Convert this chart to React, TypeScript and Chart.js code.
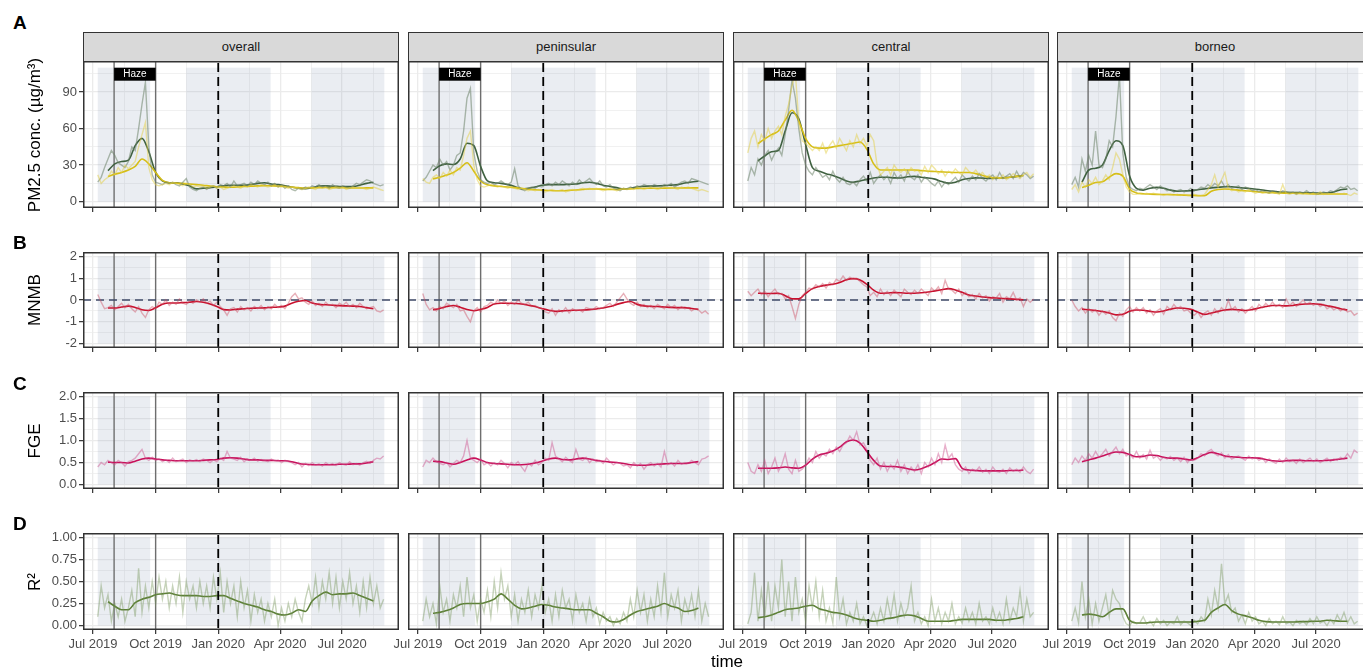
import React, { useEffect, useRef } from "react";
import { Chart, registerables } from "chart.js";

Chart.register(...registerables);

const FONT = "'Liberation Sans', Arial, Helvetica, sans-serif";

// ---------------- categories / axes ----------------
const REGIONS = ["overall", "peninsular", "central", "borneo"];
// days since 1 Jul 2019
const NOISY_DAYS = [7, 12, 17, 22, 27, 32, 37, 42, 47, 52, 57, 62, 67, 72, 77, 82, 87, 92, 97, 102, 107, 112, 117, 122, 127, 132, 137, 142, 147, 152, 157, 162, 167, 172, 177, 182, 187, 192, 197, 202, 207, 212, 217, 222, 227, 232, 237, 242, 247, 252, 257, 262, 267, 272, 277, 282, 287, 292, 297, 302, 307, 312, 317, 322, 327, 332, 337, 342, 347, 352, 357, 362, 367, 372, 377, 382, 387, 392, 397, 402, 407, 412, 417, 422, 427];
const SMOOTH_DAYS = [22, 32, 42, 52, 62, 72, 82, 92, 102, 112, 122, 132, 142, 152, 162, 172, 182, 192, 202, 212, 222, 232, 242, 252, 262, 272, 282, 292, 302, 312, 322, 332, 342, 352, 362, 372, 382, 392, 402, 412];
const X_MAJOR = [0, 92, 184, 275, 366];
const X_LABELS = ["Jul 2019", "Oct 2019", "Jan 2020", "Apr 2020", "Jul 2020"];
const X_MINOR = [46, 138, 229.5, 320.5, 411.5];
const X_MIN = -14.7;
const X_MAX = 449.6;
const HAZE_DAYS = [31, 92];
const EVENT_DAY = 184;
const SEASON_BANDS = [[7, 84], [137, 261], [321, 428]];

// ---------------- PM2.5 (green = series 1, yellow = series 2) ----------------
const PM_OBS_RAW_OVERALL = [16, 20, 28, 35, 42, 38, 32, 30, 28, 33, 45, 42, 60, 80, 98, 45, 22, 16, 15, 14, 16, 15, 16, 14, 13, 16, 19, 12, 10, 9, 11, 12, 10, 12, 13, 11, 14, 13, 15, 12, 17, 13, 14, 15, 13, 16, 14, 17, 15, 14, 16, 13, 15, 12, 14, 11, 13, 10, 9, 11, 10, 12, 11, 13, 12, 14, 12, 13, 11, 14, 12, 11, 13, 12, 11, 13, 15, 14, 16, 18, 17, 15, 14, 13, 14];
const PM_MOD_RAW_OVERALL = [22, 15, 18, 20, 25, 22, 28, 24, 30, 27, 30, 33, 45, 55, 65, 28, 18, 14, 13, 14, 15, 14, 16, 15, 14, 13, 15, 14, 12, 13, 12, 13, 11, 12, 13, 11, 12, 10, 11, 12, 13, 12, 11, 13, 12, 14, 13, 12, 14, 13, 12, 13, 14, 12, 13, 12, 11, 12, 11, 11, 10, 11, 12, 11, 10, 12, 11, 12, 10, 11, 12, 11, 12, 10, 11, 12, 11, 12, 11, 10, 11, 12, 11, 10, 9];
const PM_OBS_RAW_PENINSULAR = [17, 20, 25, 30, 28, 35, 30, 33, 26, 30, 38, 40, 58, 85, 93, 40, 25, 18, 16, 15, 16, 14, 15, 17, 15, 14, 16, 27, 13, 10, 9, 11, 12, 11, 13, 12, 14, 15, 13, 16, 14, 17, 15, 13, 16, 14, 18, 15, 17, 19, 16, 14, 17, 13, 12, 14, 11, 10, 9, 11, 10, 12, 11, 13, 12, 14, 13, 12, 14, 13, 12, 14, 13, 15, 12, 14, 16, 17, 15, 19, 18, 17, 16, 15, 14];
const PM_MOD_RAW_PENINSULAR = [19, 16, 15, 20, 22, 19, 24, 21, 26, 22, 28, 26, 38, 52, 58, 30, 18, 13, 12, 13, 14, 13, 12, 13, 12, 11, 12, 11, 10, 11, 10, 9, 10, 9, 10, 9, 8, 9, 10, 9, 9, 10, 8, 9, 10, 9, 10, 11, 10, 11, 10, 11, 10, 9, 10, 11, 10, 9, 10, 11, 10, 11, 10, 12, 11, 10, 11, 12, 11, 10, 11, 12, 11, 12, 11, 10, 12, 11, 12, 11, 10, 9, 10, 9, 8];
const PM_OBS_RAW_CENTRAL = [17, 28, 22, 35, 30, 38, 42, 34, 40, 44, 38, 55, 75, 100, 85, 60, 40, 30, 25, 22, 28, 24, 20, 22, 18, 25, 19, 16, 20, 15, 14, 16, 13, 18, 21, 17, 24, 15, 19, 22, 18, 21, 15, 24, 19, 22, 17, 25, 20, 18, 22, 16, 20, 18, 15, 13, 17, 12, 16, 14, 17, 20, 16, 22, 19, 17, 21, 18, 23, 19, 17, 20, 22, 18, 24, 19, 21, 23, 19, 25, 20, 24, 22, 19, 21];
const PM_MOD_RAW_CENTRAL = [40, 52, 58, 45, 55, 50, 60, 52, 58, 62, 55, 70, 80, 95, 105, 65, 50, 48, 45, 42, 45, 42, 48, 40, 46, 50, 44, 52, 47, 42, 50, 45, 55, 48, 52, 46, 55, 50, 30, 22, 25, 28, 22, 30, 26, 24, 27, 23, 28, 25, 26, 22, 29, 24, 30, 27, 23, 26, 21, 25, 23, 27, 24, 22, 28, 25, 23, 26, 22, 24, 20, 22, 18, 21, 19, 22, 18, 20, 23, 21, 19, 22, 24, 20, 23];
const PM_OBS_RAW_BORNEO = [14, 20, 12, 35, 25, 38, 30, 58, 30, 28, 35, 50, 45, 70, 104, 40, 20, 12, 10, 9, 11, 10, 12, 14, 12, 10, 13, 11, 9, 10, 8, 9, 10, 8, 9, 11, 9, 10, 12, 11, 14, 12, 15, 13, 17, 12, 14, 11, 12, 13, 10, 12, 11, 9, 10, 8, 9, 8, 7, 9, 8, 7, 9, 8, 7, 8, 6, 8, 7, 9, 7, 8, 6, 7, 8, 7, 9, 8, 10, 12, 11, 13, 10, 11, 9];
const PM_MOD_RAW_BORNEO = [10, 14, 8, 16, 12, 18, 15, 20, 14, 17, 22, 18, 28, 40, 35, 22, 12, 8, 6, 6, 7, 6, 7, 6, 7, 6, 6, 5, 6, 6, 5, 6, 5, 6, 5, 5, 6, 5, 5, 6, 10, 14, 22, 12, 18, 24, 11, 9, 10, 8, 9, 8, 10, 8, 7, 8, 7, 8, 7, 8, 7, 6, 14, 7, 6, 7, 6, 7, 6, 7, 6, 7, 6, 8, 6, 7, 6, 6, 7, 6, 7, 6, 5, 7, 6];

const PM_OBS_SMOOTH_OVERALL = [25.5, 31, 33, 34, 46, 52, 41, 24, 17, 15.4, 15.4, 14.5, 13, 10.5, 11, 11.5, 12.3, 13, 13.5, 13.5, 13.5, 14, 15, 15.5, 14.5, 14, 13, 12, 11, 10.7, 11.5, 12.8, 13, 12.6, 12.5, 12.4, 12.5, 13.5, 15, 16];
const PM_MOD_SMOOTH_OVERALL = [20.6, 22.5, 24, 26, 29, 35, 31, 24, 17.5, 15.5, 15.2, 15, 14.5, 14, 13.5, 12.8, 12.3, 12, 11.8, 12, 12.4, 12.6, 13, 13.2, 13, 12.8, 12.5, 12, 11.5, 11.2, 11.3, 11.5, 11.6, 11.5, 11.5, 11.3, 11.2, 11.2, 11.3, 11.3];
const PM_OBS_SMOOTH_PENINSULAR = [25.5, 29.5, 31, 30.5, 35, 48, 46, 29, 17, 15.5, 15, 14, 12.5, 10.5, 11, 12, 13.5, 14, 14, 14, 14.3, 14.5, 15.5, 16, 15, 13.5, 12.5, 11.5, 10.5, 11, 12, 12.6, 12.8, 13, 13.2, 13.6, 14, 15.3, 16.2, 16.8];
const PM_MOD_SMOOTH_PENINSULAR = [18.7, 20, 21.8, 24, 27.5, 32, 25, 17, 13.8, 13, 12.5, 12, 11.5, 11, 10.2, 9.8, 9.5, 9.2, 9, 9, 9.3, 9.6, 10, 10.4, 10.4, 10.2, 10, 10, 10.2, 10.5, 10.8, 11, 11, 11, 11.1, 11.2, 11.2, 11.3, 11.3, 11.3];
const PM_OBS_SMOOTH_CENTRAL = [33.5, 37.5, 41, 42, 58, 73, 68, 47, 28, 25, 23, 21.5, 19.5, 17, 16, 17, 18.3, 19.5, 20, 20, 19.5, 19.4, 20.5, 20.8, 20, 19.5, 18.5, 16.5, 15.2, 16, 18, 19, 19.5, 19.3, 19.1, 19.2, 19.6, 20, 20.8, 21.5];
const PM_MOD_SMOOTH_CENTRAL = [47.7, 51.5, 55, 58, 67, 75, 66, 52, 45, 44, 44, 45, 46, 47, 48, 49, 43, 31, 26, 26, 26, 26, 26, 26, 25.5, 25, 24.8, 24.5, 24.2, 24, 24, 24, 23, 21.5, 20, 19.5, 19.4, 20, 20.8, 21.5];
const PM_OBS_SMOOTH_BORNEO = [16, 26, 27.5, 30, 42, 50, 46, 21, 11, 9.5, 11, 11.7, 11, 9.5, 8.6, 8.8, 9, 9.8, 10.5, 11.3, 11.8, 12.2, 12.2, 11.6, 11.1, 10.6, 10, 9.2, 8.5, 8, 7.7, 7.5, 7.4, 7.3, 7.2, 7.1, 7.3, 8, 9.8, 10.4];
const PM_MOD_SMOOTH_BORNEO = [11.7, 13.5, 15.8, 16.3, 20, 23, 21, 10.5, 7.2, 6.5, 6.2, 6, 5.9, 5.8, 5.6, 5.4, 5.2, 5, 4.9, 8.5, 10, 10.4, 10, 9.5, 9, 8.5, 8, 7.5, 7.3, 7.1, 7, 6.9, 6.8, 6.6, 6.4, 6.3, 6.3, 6.3, 6.3, 6.3];

// ---------------- MNMB ----------------
const MNMB_RAW_OVERALL = [0.25, -0.1, -0.4, -0.35, -0.25, -0.45, -0.3, -0.15, -0.35, -0.2, -0.4, -0.55, -0.3, -0.6, -0.8, -0.45, -0.3, -0.4, -0.1, -0.2, 0, -0.25, -0.1, -0.2, 0.05, -0.15, -0.2, -0.05, -0.15, 0, -0.1, 0.05, -0.15, -0.05, -0.25, -0.1, -0.3, -0.45, -0.7, -0.4, -0.35, -0.55, -0.3, -0.45, -0.35, -0.5, -0.3, -0.4, -0.25, -0.45, -0.3, -0.4, -0.2, -0.35, -0.25, -0.4, -0.15, 0.15, 0.3, 0.05, 0.1, -0.1, -0.2, -0.05, -0.25, -0.15, -0.3, -0.1, -0.25, -0.2, -0.35, -0.15, -0.25, -0.1, -0.3, -0.2, -0.35, -0.15, -0.3, -0.4, -0.35, -0.3, -0.5, -0.55, -0.45];
const MNMB_RAW_PENINSULAR = [0.3, -0.2, -0.45, -0.35, -0.5, -0.3, -0.4, -0.15, -0.25, -0.35, -0.2, -0.5, -0.45, -0.75, -1.0, -0.5, -0.35, -0.55, -0.3, -0.25, -0.1, -0.2, 0, -0.15, -0.05, -0.25, -0.1, -0.2, 0, -0.15, -0.2, -0.1, -0.3, -0.25, -0.35, -0.4, -0.55, -0.6, -0.4, -0.7, -0.45, -0.55, -0.35, -0.6, -0.4, -0.5, -0.45, -0.55, -0.35, -0.4, -0.45, -0.3, -0.4, -0.35, -0.25, -0.15, -0.3, -0.1, 0.1, 0.3, 0.05, -0.15, -0.25, -0.1, -0.3, -0.2, -0.35, -0.25, -0.4, -0.2, -0.3, -0.4, -0.2, -0.35, -0.25, -0.45, -0.3, -0.4, -0.35, -0.5, -0.4, -0.45, -0.6, -0.5, -0.65];
const MNMB_RAW_CENTRAL = [0.4, 0.2, 0.35, 0.5, 0.25, 0.4, 0.15, 0.35, 0.5, 0.25, 0.3, 0.05, 0.2, -0.3, -0.85, -0.2, 0.2, 0.35, 0.55, 0.5, 0.7, 0.6, 0.75, 0.55, 0.8, 0.7, 0.95, 0.85, 1.1, 0.9, 1.05, 0.95, 1.0, 0.85, 0.7, 0.6, 0.2, 0.35, 0.15, 0.5, 0.25, 0.4, 0.2, 0.45, 0.3, 0.15, 0.5, 0.35, 0.25, 0.45, 0.3, 0.5, 0.35, 0.2, 0.55, 0.4, 0.6, 0.3, 0.9, 0.5, 0.45, 0.3, 0.5, 0.2, 0.35, 0.15, 0.25, 0.05, 0.3, 0.1, 0.2, -0.05, 0.15, 0.1, 0.3, -0.1, 0.15, 0.05, 0.35, 0, 0.1, -0.3, 0.05, -0.1, 0.05];
const MNMB_RAW_BORNEO = [0, -0.3, -0.5, -0.35, -0.6, -0.4, -0.55, -0.45, -0.7, -0.5, -0.65, -0.5, -0.8, -0.95, -0.6, -0.75, -0.45, -0.3, -0.55, -0.35, -0.5, -0.35, -0.6, -0.45, -0.7, -0.5, -0.4, -0.65, -0.3, -0.45, -0.2, -0.4, -0.3, -0.5, -0.45, -0.6, -0.7, -0.55, -0.8, -0.6, -0.5, -0.7, -0.4, -0.6, -0.35, -0.5, 0, -0.45, -0.3, -0.55, -0.4, -0.6, -0.45, -0.3, -0.5, -0.2, -0.35, -0.15, -0.3, -0.1, -0.3, -0.2, -0.35, 0.05, -0.25, -0.1, -0.3, -0.15, 0, -0.2, -0.1, -0.25, -0.15, -0.3, -0.2, -0.4, -0.3, -0.45, -0.35, -0.5, -0.4, -0.55, -0.5, -0.7, -0.6];
const MNMB_SMOOTH_OVERALL = [-0.37, -0.37, -0.32, -0.28, -0.34, -0.45, -0.48, -0.36, -0.2, -0.14, -0.14, -0.12, -0.1, -0.07, -0.1, -0.18, -0.3, -0.44, -0.46, -0.42, -0.4, -0.38, -0.37, -0.36, -0.34, -0.32, -0.28, -0.15, -0.06, -0.02, -0.14, -0.2, -0.22, -0.24, -0.26, -0.27, -0.28, -0.3, -0.35, -0.4];
const MNMB_SMOOTH_PENINSULAR = [-0.45, -0.39, -0.3, -0.25, -0.33, -0.44, -0.49, -0.43, -0.34, -0.18, -0.15, -0.15, -0.16, -0.18, -0.24, -0.3, -0.39, -0.47, -0.52, -0.5, -0.48, -0.47, -0.46, -0.44, -0.41, -0.37, -0.3, -0.2, -0.12, -0.07, -0.2, -0.27, -0.29, -0.3, -0.32, -0.34, -0.35, -0.35, -0.39, -0.43];
const MNMB_SMOOTH_CENTRAL = [0.31, 0.3, 0.3, 0.31, 0.2, 0.06, 0.05, 0.3, 0.52, 0.62, 0.68, 0.72, 0.8, 0.93, 0.98, 0.92, 0.72, 0.45, 0.31, 0.32, 0.34, 0.33, 0.31, 0.31, 0.33, 0.37, 0.42, 0.47, 0.52, 0.46, 0.35, 0.23, 0.18, 0.14, 0.11, 0.09, 0.07, 0.05, 0.03, 0.01];
const MNMB_SMOOTH_BORNEO = [-0.42, -0.45, -0.48, -0.53, -0.6, -0.68, -0.65, -0.52, -0.46, -0.47, -0.52, -0.55, -0.5, -0.42, -0.37, -0.38, -0.43, -0.55, -0.66, -0.6, -0.52, -0.46, -0.43, -0.45, -0.48, -0.44, -0.37, -0.3, -0.25, -0.25, -0.27, -0.25, -0.2, -0.18, -0.17, -0.2, -0.26, -0.32, -0.4, -0.46];

// ---------------- FGE ----------------
const FGE_RAW_OVERALL = [0.4, 0.5, 0.45, 0.55, 0.5, 0.45, 0.55, 0.5, 0.42, 0.52, 0.55, 0.6, 0.7, 0.8, 0.6, 0.55, 0.62, 0.55, 0.58, 0.52, 0.56, 0.5, 0.6, 0.52, 0.55, 0.58, 0.5, 0.56, 0.53, 0.57, 0.52, 0.58, 0.55, 0.5, 0.56, 0.52, 0.6, 0.55, 0.75, 0.6, 0.58, 0.55, 0.62, 0.52, 0.58, 0.55, 0.6, 0.53, 0.57, 0.55, 0.52, 0.58, 0.54, 0.56, 0.5, 0.55, 0.52, 0.5, 0.45, 0.5, 0.4, 0.48, 0.43, 0.5, 0.44, 0.47, 0.42, 0.5, 0.45, 0.48, 0.43, 0.5, 0.46, 0.44, 0.52, 0.45, 0.48, 0.44, 0.5, 0.53, 0.48, 0.55, 0.6, 0.58, 0.65];
const FGE_RAW_PENINSULAR = [0.4, 0.55, 0.5, 0.6, 0.52, 0.48, 0.45, 0.5, 0.4, 0.48, 0.55, 0.5, 0.65, 1.0, 0.6, 0.55, 0.5, 0.58, 0.45, 0.5, 0.42, 0.5, 0.45, 0.55, 0.48, 0.38, 0.5, 0.45, 0.52, 0.4, 0.3, 0.48, 0.42, 0.55, 0.45, 0.5, 0.6, 0.55, 0.95, 0.65, 0.58, 0.52, 0.62, 0.55, 0.5, 0.8, 0.58, 0.55, 0.62, 0.5, 0.58, 0.52, 0.55, 0.48, 0.6, 0.52, 0.45, 0.5, 0.48, 0.42, 0.45, 0.38, 0.5, 0.42, 0.48, 0.35, 0.45, 0.5, 0.42, 0.48, 0.4, 0.75, 0.45, 0.5, 0.42, 0.55, 0.46, 0.5, 0.48, 0.55, 0.5, 0.45, 0.58, 0.6, 0.65];
const FGE_RAW_CENTRAL = [0.5, 0.3, 0.25, 0.45, 0.3, 0.55, 0.25, 0.4, 0.6, 0.3, 0.45, 0.7, 0.35, 0.25, 0.55, 0.3, 0.35, 0.45, 0.6, 0.5, 0.75, 0.6, 0.7, 0.65, 0.8, 0.7, 0.85, 0.75, 0.9, 0.95, 1.1, 1.0, 1.2, 0.9, 0.95, 0.8, 0.55, 0.45, 0.6, 0.35, 0.5, 0.3, 0.45, 0.35, 0.55, 0.3, 0.45, 0.25, 0.4, 0.3, 0.45, 0.25, 0.5, 0.4, 0.6, 0.45, 0.7, 0.5, 0.9, 0.6, 0.7, 0.45, 0.35, 0.3, 0.4, 0.25, 0.35, 0.3, 0.4, 0.28, 0.35, 0.25, 0.4, 0.3, 0.28, 0.35, 0.25, 0.38, 0.3, 0.35, 0.28, 0.4, 0.3, 0.25, 0.35];
const FGE_RAW_BORNEO = [0.45, 0.6, 0.5, 0.65, 0.55, 0.7, 0.6, 0.75, 0.62, 0.7, 0.8, 0.65, 0.75, 0.85, 0.7, 0.8, 0.65, 0.7, 0.6, 0.75, 0.6, 0.68, 0.58, 0.78, 0.6, 0.65, 0.55, 0.62, 0.58, 0.64, 0.55, 0.6, 0.52, 0.62, 0.5, 0.58, 0.55, 0.6, 0.7, 0.65, 0.75, 0.8, 0.7, 0.65, 0.72, 0.6, 0.68, 0.58, 0.62, 0.65, 0.6, 0.55, 0.65, 0.58, 0.62, 0.55, 0.6, 0.5, 0.58, 0.52, 0.48, 0.58, 0.5, 0.6, 0.52, 0.55, 0.48, 0.58, 0.5, 0.55, 0.6, 0.52, 0.58, 0.5, 0.55, 0.6, 0.52, 0.58, 0.55, 0.62, 0.58, 0.7, 0.6, 0.78, 0.72];
const FGE_SMOOTH_OVERALL = [0.51, 0.5, 0.5, 0.49, 0.53, 0.58, 0.6, 0.58, 0.56, 0.55, 0.54, 0.54, 0.54, 0.54, 0.55, 0.56, 0.57, 0.6, 0.61, 0.6, 0.58, 0.56, 0.56, 0.55, 0.55, 0.54, 0.54, 0.52, 0.48, 0.46, 0.45, 0.45, 0.45, 0.45, 0.46, 0.46, 0.47, 0.47, 0.49, 0.52];
const FGE_SMOOTH_PENINSULAR = [0.53, 0.52, 0.49, 0.46, 0.5, 0.56, 0.6, 0.56, 0.5, 0.48, 0.47, 0.46, 0.45, 0.45, 0.46, 0.49, 0.53, 0.58, 0.6, 0.57, 0.56, 0.58, 0.6, 0.58, 0.55, 0.53, 0.51, 0.5, 0.48, 0.45, 0.44, 0.44, 0.45, 0.46, 0.47, 0.48, 0.48, 0.48, 0.5, 0.52];
const FGE_SMOOTH_CENTRAL = [0.37, 0.37, 0.37, 0.38, 0.4, 0.38, 0.37, 0.44, 0.58, 0.67, 0.71, 0.76, 0.85, 0.97, 1.01, 0.94, 0.75, 0.55, 0.42, 0.41, 0.41, 0.39, 0.36, 0.33, 0.36, 0.42, 0.5, 0.58, 0.57, 0.59, 0.37, 0.33, 0.32, 0.31, 0.31, 0.31, 0.31, 0.32, 0.32, 0.33];
const FGE_SMOOTH_BORNEO = [0.52, 0.56, 0.6, 0.65, 0.7, 0.74, 0.73, 0.68, 0.63, 0.64, 0.67, 0.66, 0.62, 0.6, 0.6, 0.58, 0.56, 0.61, 0.68, 0.73, 0.7, 0.65, 0.63, 0.62, 0.61, 0.61, 0.6, 0.57, 0.54, 0.53, 0.54, 0.55, 0.55, 0.54, 0.54, 0.54, 0.55, 0.56, 0.58, 0.6];

// ---------------- R² ----------------
const R2_RAW_OVERALL = [0.1, 0.45, 0.2, 0.35, 0.05, 0.25, 0.1, 0.3, 0.05, 0.2, 0.4, 0.1, 0.65, 0.15, 0.45, 0.2, 0.5, 0.25, 0.55, 0.3, 0.5, 0.2, 0.45, 0.25, 0.55, 0.15, 0.5, 0.3, 0.45, 0.2, 0.5, 0.25, 0.45, 0.2, 0.55, 0.3, 0.6, 0.15, 0.5, 0.25, 0.45, 0.1, 0.5, 0.2, 0.4, 0.05, 0.35, 0.15, 0.3, 0.05, 0.25, 0.1, 0.3, 0.0, 0.2, 0.05, 0.25, 0.1, 0.3, 0.15, 0.05, 0.3, 0.45, 0.25, 0.55, 0.2, 0.5, 0.3, 0.6, 0.25, 0.55, 0.2, 0.5, 0.3, 0.6, 0.25, 0.45, 0.15, 0.5, 0.2, 0.55, 0.25, 0.45, 0.2, 0.3];
const R2_RAW_PENINSULAR = [0.05, 0.3, 0.1, 0.25, 0.02, 0.45, 0.15, 0.3, 0.05, 0.35, 0.2, 0.45, 0.1, 0.55, 0.2, 0.35, 0.05, 0.3, 0.15, 0.4, 0.1, 0.5, 0.2, 0.6, 0.3, 0.45, 0.1, 0.35, 0.05, 0.3, 0.15, 0.4, 0.1, 0.35, 0.2, 0.45, 0.15, 0.3, 0.05, 0.35, 0.1, 0.4, 0.2, 0.3, 0.05, 0.35, 0.15, 0.25, 0.05, 0.3, 0.1, 0.2, 0.02, 0.15, 0.05, 0.1, 0.0, 0.08, 0.02, 0.15, 0.05, 0.3, 0.1, 0.4, 0.15, 0.35, 0.05, 0.3, 0.1, 0.45, 0.15, 0.6, 0.1, 0.35, 0.2, 0.4, 0.05, 0.3, 0.15, 0.35, 0.1, 0.4, 0.05, 0.25, 0.1];
const R2_RAW_CENTRAL = [0.02, 0.15, 0.6, 0.05, 0.4, 0.1, 0.5, 0.05, 0.45, 0.2, 0.75, 0.1, 0.5, 0.05, 0.55, 0.15, 0.3, 0.05, 0.45, 0.2, 0.5, 0.1, 0.4, 0.05, 0.2, 0.03, 0.55, 0.1, 0.3, 0.02, 0.15, 0.05, 0.25, 0.02, 0.1, 0.0, 0.05, 0.15, 0.02, 0.2, 0.05, 0.3, 0.1, 0.35, 0.05, 0.25, 0.1, 0.2, 0.45, 0.05, 0.15, 0.02, 0.1, 0.0, 0.3, 0.05, 0.2, 0.02, 0.15, 0.05, 0.25, 0.02, 0.1, 0.03, 0.2, 0.05, 0.15, 0.02, 0.25, 0.05, 0.1, 0.02, 0.2, 0.05, 0.15, 0.02, 0.3, 0.05, 0.2, 0.1, 0.4, 0.05, 0.3, 0.1, 0.15];
const R2_RAW_BORNEO = [0.05, 0.2, 0.03, 0.5, 0.1, 0.3, 0.02, 0.25, 0.05, 0.2, 0.35, 0.1, 0.4, 0.3, 0.25, 0.1, 0.02, 0.0, 0.05, 0.02, 0.03, 0.1, 0.02, 0.05, 0.0, 0.08, 0.02, 0.06, 0.0, 0.04, 0.02, 0.1, 0.01, 0.05, 0.03, 0.0, 0.06, 0.02, 0.1, 0.05, 0.3, 0.12, 0.4, 0.2, 0.7, 0.25, 0.35, 0.15, 0.2, 0.05, 0.12, 0.02, 0.15, 0.05, 0.1, 0.02, 0.05, 0.0, 0.08, 0.02, 0.05, 0.01, 0.1, 0.02, 0.04, 0.0, 0.06, 0.02, 0.05, 0.01, 0.08, 0.02, 0.1, 0.03, 0.05, 0.0, 0.07, 0.02, 0.12, 0.05, 0.15, 0.03, 0.1, 0.02, 0.05];
const R2_SMOOTH_OVERALL = [0.27, 0.22, 0.18, 0.18, 0.26, 0.3, 0.32, 0.35, 0.36, 0.37, 0.35, 0.34, 0.34, 0.34, 0.33, 0.33, 0.34, 0.34, 0.31, 0.28, 0.25, 0.23, 0.21, 0.18, 0.16, 0.13, 0.12, 0.14, 0.18, 0.16, 0.28, 0.34, 0.38, 0.35, 0.36, 0.36, 0.37, 0.34, 0.31, 0.28];
const R2_SMOOTH_PENINSULAR = [0.14, 0.15, 0.17, 0.2, 0.24, 0.25, 0.25, 0.25, 0.27, 0.3, 0.36, 0.3, 0.23, 0.19, 0.2, 0.22, 0.24, 0.23, 0.21, 0.2, 0.19, 0.18, 0.18, 0.18, 0.14, 0.1, 0.05, 0.04, 0.07, 0.12, 0.16, 0.18, 0.2, 0.22, 0.25, 0.22, 0.2, 0.16, 0.17, 0.2];
const R2_SMOOTH_CENTRAL = [0.09, 0.1, 0.12, 0.15, 0.18, 0.19, 0.2, 0.22, 0.23, 0.19, 0.17, 0.15, 0.14, 0.12, 0.09, 0.07, 0.06, 0.05, 0.06, 0.08, 0.09, 0.11, 0.12, 0.11, 0.08, 0.05, 0.05, 0.05, 0.05, 0.06, 0.07, 0.07, 0.07, 0.07, 0.07, 0.06, 0.06, 0.07, 0.08, 0.1];
const R2_SMOOTH_BORNEO = [0.12, 0.13, 0.12, 0.1, 0.15, 0.19, 0.19, 0.06, 0.03, 0.03, 0.035, 0.04, 0.04, 0.04, 0.04, 0.04, 0.04, 0.05, 0.06, 0.15, 0.2, 0.24, 0.17, 0.13, 0.11, 0.09, 0.06, 0.045, 0.04, 0.04, 0.04, 0.04, 0.045, 0.045, 0.05, 0.05, 0.06, 0.055, 0.05, 0.05];

// ---------------- table built from the arrays ----------------
const PM_OBS_RAW = [PM_OBS_RAW_OVERALL, PM_OBS_RAW_PENINSULAR, PM_OBS_RAW_CENTRAL, PM_OBS_RAW_BORNEO];
const PM_MOD_RAW = [PM_MOD_RAW_OVERALL, PM_MOD_RAW_PENINSULAR, PM_MOD_RAW_CENTRAL, PM_MOD_RAW_BORNEO];
const PM_OBS_SMOOTH = [PM_OBS_SMOOTH_OVERALL, PM_OBS_SMOOTH_PENINSULAR, PM_OBS_SMOOTH_CENTRAL, PM_OBS_SMOOTH_BORNEO];
const PM_MOD_SMOOTH = [PM_MOD_SMOOTH_OVERALL, PM_MOD_SMOOTH_PENINSULAR, PM_MOD_SMOOTH_CENTRAL, PM_MOD_SMOOTH_BORNEO];
const MNMB_RAW = [MNMB_RAW_OVERALL, MNMB_RAW_PENINSULAR, MNMB_RAW_CENTRAL, MNMB_RAW_BORNEO];
const MNMB_SMOOTH = [MNMB_SMOOTH_OVERALL, MNMB_SMOOTH_PENINSULAR, MNMB_SMOOTH_CENTRAL, MNMB_SMOOTH_BORNEO];
const FGE_RAW = [FGE_RAW_OVERALL, FGE_RAW_PENINSULAR, FGE_RAW_CENTRAL, FGE_RAW_BORNEO];
const FGE_SMOOTH = [FGE_SMOOTH_OVERALL, FGE_SMOOTH_PENINSULAR, FGE_SMOOTH_CENTRAL, FGE_SMOOTH_BORNEO];
const R2_RAW = [R2_RAW_OVERALL, R2_RAW_PENINSULAR, R2_RAW_CENTRAL, R2_RAW_BORNEO];
const R2_SMOOTH = [R2_SMOOTH_OVERALL, R2_SMOOTH_PENINSULAR, R2_SMOOTH_CENTRAL, R2_SMOOTH_BORNEO];

// ---------------- styling ----------------
const C_OBS_RAW = "rgba(110,132,106,0.55)";
const C_MOD_RAW = "rgba(228,208,70,0.5)";
const C_OBS_SMOOTH = "#3f6140";
const C_MOD_SMOOTH = "#d6be17";
const C_MNMB_RAW = "rgba(205,80,100,0.45)";
const C_MNMB_SMOOTH = "#c8102e";
const C_FGE_RAW = "rgba(205,80,140,0.45)";
const C_FGE_SMOOTH = "#c8105a";
const C_R2_RAW = "rgba(120,150,90,0.42)";
const C_R2_SMOOTH = "#5c7f36";
const BAND_FILL = "rgba(130,150,180,0.17)";
const GRID_COLOR = "#ebebeb";

const COL_LEFT = [83, 408, 733, 1057];
const PLOT_W = 316;
const PAD = 24;

type RowDef = {
  letter: string;
  letterTop: number;
  title: string;
  top: number;
  h: number;
  yMin: number;
  yMax: number;
  major: number[];
  minor: number[];
  fmt: (v: number) => string;
  band: number[];
  zero: boolean;
  haze: boolean;
};

const ROWS: RowDef[] = [
  { letter: "A", letterTop: 12.5, title: "PM2.5 conc. (µg/m³)", top: 61, h: 147, yMin: -5.2, yMax: 115.5, major: [0, 30, 60, 90], minor: [15, 45, 75, 105], fmt: (v) => String(v), band: [0, 110], zero: false, haze: true },
  { letter: "B", letterTop: 232.5, title: "MNMB", top: 252, h: 96, yMin: -2.2, yMax: 2.2, major: [-2, -1, 0, 1, 2], minor: [-1.5, -0.5, 0.5, 1.5], fmt: (v) => String(v), band: [-2, 2], zero: true, haze: false },
  { letter: "C", letterTop: 373.5, title: "FGE", top: 392, h: 97, yMin: -0.1, yMax: 2.1, major: [0, 0.5, 1, 1.5, 2], minor: [0.25, 0.75, 1.25, 1.75], fmt: (v) => v.toFixed(1), band: [0, 2], zero: false, haze: false },
  { letter: "D", letterTop: 514, title: "R²", top: 533, h: 97, yMin: -0.05, yMax: 1.05, major: [0, 0.25, 0.5, 0.75, 1], minor: [0.125, 0.375, 0.625, 0.875], fmt: (v) => v.toFixed(2), band: [0, 1], zero: false, haze: false },
];

function pts(days: number[], vals: number[]) {
  return days.map((d, i) => ({ x: d, y: vals[i] }));
}

function rawDs(vals: number[], color: string) {
  return { data: pts(NOISY_DAYS, vals), borderColor: color, borderWidth: 1.4, pointRadius: 0, tension: 0, fill: false };
}
function smoothDs(vals: number[], color: string) {
  return { data: pts(SMOOTH_DAYS, vals), borderColor: color, borderWidth: 1.6, pointRadius: 0, cubicInterpolationMode: "monotone", fill: false };
}

function datasetsFor(r: number, c: number) {
  if (r === 0) {
    return [
      rawDs(PM_MOD_RAW[c], C_MOD_RAW),
      rawDs(PM_OBS_RAW[c], C_OBS_RAW),
      smoothDs(PM_MOD_SMOOTH[c], C_MOD_SMOOTH),
      smoothDs(PM_OBS_SMOOTH[c], C_OBS_SMOOTH),
    ];
  }
  if (r === 1) return [rawDs(MNMB_RAW[c], C_MNMB_RAW), smoothDs(MNMB_SMOOTH[c], C_MNMB_SMOOTH)];
  if (r === 2) return [rawDs(FGE_RAW[c], C_FGE_RAW), smoothDs(FGE_SMOOTH[c], C_FGE_SMOOTH)];
  return [rawDs(R2_RAW[c], C_R2_RAW), smoothDs(R2_SMOOTH[c], C_R2_SMOOTH)];
}

const overlayPlugin = {
  id: "overlay",
  beforeDatasetsDraw(chart: any, _args: any, o: any) {
    const { ctx, chartArea: a } = chart;
    const x = chart.scales.x;
    const y = chart.scales.y;
    ctx.save();
    ctx.beginPath();
    ctx.rect(a.left, a.top, a.right - a.left, a.bottom - a.top);
    ctx.clip();
    ctx.fillStyle = BAND_FILL;
    const yt = y.getPixelForValue(o.band[1]);
    const yb = y.getPixelForValue(o.band[0]);
    for (const [s, e] of SEASON_BANDS) {
      const x0 = x.getPixelForValue(s);
      const x1 = x.getPixelForValue(e);
      ctx.fillRect(x0, yt, x1 - x0, yb - yt);
    }
    ctx.strokeStyle = "#6e6e6e";
    ctx.lineWidth = 1.4;
    for (const d of HAZE_DAYS) {
      const px = x.getPixelForValue(d);
      ctx.beginPath();
      ctx.moveTo(px, a.top);
      ctx.lineTo(px, a.bottom);
      ctx.stroke();
    }
    if (o.zero) {
      const py = y.getPixelForValue(0);
      ctx.setLineDash([8, 5]);
      ctx.strokeStyle = "#3f4a68";
      ctx.lineWidth = 1.5;
      ctx.beginPath();
      ctx.moveTo(a.left, py);
      ctx.lineTo(a.right, py);
      ctx.stroke();
    }
    ctx.restore();
  },
  afterDatasetsDraw(chart: any, _args: any, o: any) {
    const { ctx, chartArea: a } = chart;
    const x = chart.scales.x;
    const y = chart.scales.y;
    ctx.save();
    const ex = x.getPixelForValue(EVENT_DAY);
    ctx.setLineDash([9, 5]);
    ctx.strokeStyle = "#000";
    ctx.lineWidth = 1.8;
    ctx.beginPath();
    ctx.moveTo(ex, a.top + 2);
    ctx.lineTo(ex, a.bottom);
    ctx.stroke();
    ctx.setLineDash([]);
    if (o.haze) {
      const x0 = x.getPixelForValue(HAZE_DAYS[0]);
      const x1 = x.getPixelForValue(HAZE_DAYS[1]);
      const yTop = y.getPixelForValue(o.band[1]);
      ctx.fillStyle = "#000";
      ctx.fillRect(x0, yTop, x1 - x0, 13);
      ctx.fillStyle = "#fff";
      ctx.font = `10px ${FONT}`;
      ctx.textAlign = "center";
      ctx.textBaseline = "middle";
      ctx.fillText("Haze", (x0 + x1) / 2, yTop + 7);
    }
    ctx.strokeStyle = "#333333";
    ctx.lineWidth = 1.5;
    ctx.strokeRect(a.left + 0.75, a.top + 0.75, a.right - a.left - 1.5, a.bottom - a.top - 1.5);
    ctx.restore();
  },
};

const X_TICKS = [...X_MAJOR, ...X_MINOR].sort((p, q) => p - q);

function Panel({ r, c }: { r: number; c: number }) {
  const ref = useRef<HTMLCanvasElement | null>(null);
  const row = ROWS[r];
  const yW = c === 0 ? 50 : 0;
  const xH = r === 3 ? 24 : 5;
  const w = PAD + yW + PLOT_W + PAD;
  const h = PAD + row.h + xH + PAD;
  const left = COL_LEFT[c] - yW - PAD;
  const top = row.top - PAD;

  useEffect(() => {
    const yTicks = [...row.major, ...row.minor].sort((p, q) => p - q);
    const isYMajor = (v: number) => row.major.includes(v);
    const isXMajor = (v: number) => X_MAJOR.includes(v);
    const chart = new Chart(ref.current as HTMLCanvasElement, {
      type: "line",
      data: { datasets: datasetsFor(r, c) as any },
      options: {
        responsive: false,
        animation: false,
        events: [],
        layout: { padding: PAD },
        plugins: {
          legend: { display: false },
          tooltip: { enabled: false },
          overlay: { band: row.band, zero: row.zero, haze: row.haze },
        } as any,
        scales: {
          x: {
            type: "linear",
            min: X_MIN,
            max: X_MAX,
            afterBuildTicks: (s: any) => {
              s.ticks = X_TICKS.map((v) => ({ value: v }));
            },
            afterFit: (s: any) => {
              s.height = xH;
            },
            ticks: {
              display: r === 3,
              autoSkip: false,
              maxRotation: 0,
              minRotation: 0,
              padding: 3,
              color: "#4d4d4d",
              font: { family: FONT, size: 13 },
              callback: (v: any) => {
                const i = X_MAJOR.indexOf(Number(v));
                return i >= 0 ? X_LABELS[i] : "";
              },
            },
            grid: {
              color: GRID_COLOR,
              lineWidth: (ctx: any) => (ctx.tick && isXMajor(ctx.tick.value) ? 1.3 : 0.7),
              tickColor: (ctx: any) => (ctx.tick && isXMajor(ctx.tick.value) ? "#333333" : "rgba(0,0,0,0)"),
              tickWidth: 1.2,
              tickLength: 4,
              drawTicks: true,
            },
            border: { display: false },
          },
          y: {
            type: "linear",
            min: row.yMin,
            max: row.yMax,
            afterBuildTicks: (s: any) => {
              s.ticks = yTicks.map((v) => ({ value: v }));
            },
            afterFit: (s: any) => {
              s.width = yW;
            },
            ticks: {
              display: c === 0,
              autoSkip: false,
              padding: 2,
              color: "#4d4d4d",
              font: { family: FONT, size: 13 },
              callback: (v: any) => (isYMajor(Number(v)) ? row.fmt(Number(v)) : ""),
            },
            grid: {
              color: GRID_COLOR,
              lineWidth: (ctx: any) => (ctx.tick && isYMajor(ctx.tick.value) ? 1.3 : 0.7),
              tickColor: (ctx: any) => (ctx.tick && isYMajor(ctx.tick.value) ? "#333333" : "rgba(0,0,0,0)"),
              tickWidth: 1.2,
              tickLength: 4,
              drawTicks: c === 0,
            },
            border: { display: false },
          },
        },
      } as any,
      plugins: [overlayPlugin as any],
    });
    return () => chart.destroy();
  }, []);

  return (
    <canvas
      ref={ref}
      width={w}
      height={h}
      style={{ position: "absolute", left, top, width: w, height: h }}
    />
  );
}

export default function App() {
  return (
    <div
      style={{
        position: "absolute",
        left: 0,
        top: 0,
        width: 1363,
        height: 670,
        overflow: "hidden",
        background: "#ffffff",
        fontFamily: FONT,
      }}
    >
      {REGIONS.map((name, c) => (
        <div
          key={name}
          style={{
            position: "absolute",
            left: COL_LEFT[c],
            top: 32,
            width: PLOT_W,
            height: 30,
            boxSizing: "border-box",
            background: "#d9d9d9",
            border: "1.5px solid #333333",
            color: "#1a1a1a",
            fontSize: 13,
            lineHeight: "27px",
            textAlign: "center",
          }}
        >
          {name}
        </div>
      ))}
      {ROWS.map((row, r) =>
        REGIONS.map((_, c) => <Panel key={`${r}-${c}`} r={r} c={c} />)
      )}
      {ROWS.map((row) => (
        <div
          key={row.letter}
          style={{
            position: "absolute",
            left: 13,
            top: row.letterTop,
            fontSize: 19,
            lineHeight: "19px",
            fontWeight: "bold",
            color: "#000",
          }}
        >
          {row.letter}
        </div>
      ))}
      {ROWS.map((row) => (
        <div
          key={row.title}
          style={{
            position: "absolute",
            left: 34,
            top: row.top + row.h / 2,
            transform: "translate(-50%, -50%) rotate(-90deg)",
            whiteSpace: "nowrap",
            fontSize: 17,
            lineHeight: "17px",
            color: "#000",
          }}
        >
          {row.title}
        </div>
      ))}
      <div
        style={{
          position: "absolute",
          left: 727,
          top: 661,
          transform: "translate(-50%, -50%)",
          fontSize: 17,
          lineHeight: "17px",
          color: "#000",
        }}
      >
        time
      </div>
    </div>
  );
}
